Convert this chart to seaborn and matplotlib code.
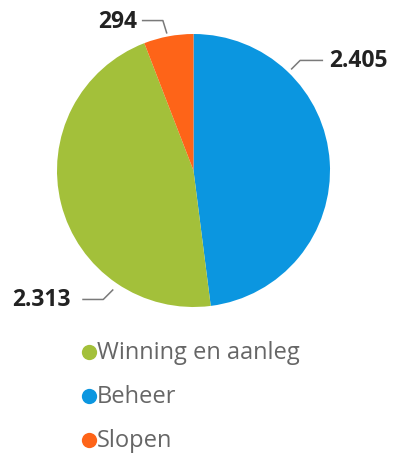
import numpy as np
import matplotlib
matplotlib.use("Agg")
import matplotlib.pyplot as plt
import seaborn as sns

# Data
categories = ["Beheer", "Winning en aanleg", "Slopen"]
values = [2405, 2313, 294]
value_labels = ["2.405", "2.313", "294"]
legend_order = ["Winning en aanleg", "Beheer", "Slopen"]

sns.set_theme(style="white")
plt.rcParams["font.family"] = ["Open Sans", "DejaVu Sans"]

palette = dict(zip(categories, sns.color_palette(["#0b96e0", "#a3c03a", "#fe6418"])))

W, H = 395, 462
fig = plt.figure(figsize=(W / 100, H / 100), dpi=100)
ax = fig.add_axes([0, 0, 1, 1])

cx, cy, r = 193.5, H - 170.5, 136.5
wedges, _ = ax.pie(values, colors=[palette[c] for c in categories],
                   startangle=90, counterclock=False, center=(cx, cy),
                   radius=r, frame=True,
                   wedgeprops=dict(linewidth=0))
ax.set_xlim(0, W)
ax.set_ylim(0, H)
ax.set_aspect("equal")
ax.axis("off")

# Leader lines: anchor angle on the rim, knee offset, horizontal run, text gap
leader = {
    "Beheer":            dict(angle=46,   rim=4, knee=(9, 9),    run=23,  gap=6),
    "Winning en aanleg": dict(angle=-124, rim=7, knee=(-10, -10), run=-21, gap=-12),
    "Slopen":            dict(angle=101,  rim=3, knee=(-4, 13),  run=-21, gap=-5),
}
for cat, lab in zip(categories, value_labels):
    p = leader[cat]
    a = np.deg2rad(p["angle"])
    x0, y0 = cx + (r + p["rim"]) * np.cos(a), cy + (r + p["rim"]) * np.sin(a)
    x1, y1 = x0 + p["knee"][0], y0 + p["knee"][1]
    x2 = x1 + p["run"]
    ax.plot([x0, x1, x2], [y0, y1, y1], color="#7a7a7a", lw=1.1,
            solid_capstyle="butt")
    ax.text(x2 + p["gap"], y1 - 1, lab,
            ha="left" if p["gap"] > 0 else "right", va="center",
            fontsize=16.5, fontweight="bold", color="#222222")

# Legend
leg_x, leg_y0, leg_step = 89, H - 352, 44
for i, cat in enumerate(legend_order):
    y = leg_y0 - i * leg_step
    ax.plot([leg_x], [y], marker="o", markersize=11, color=palette[cat],
            markeredgewidth=0)
    ax.text(leg_x + 8, y - 1, cat, ha="left", va="center", fontsize=17,
            color="#666666")

fig.savefig("out.png", dpi=100)
